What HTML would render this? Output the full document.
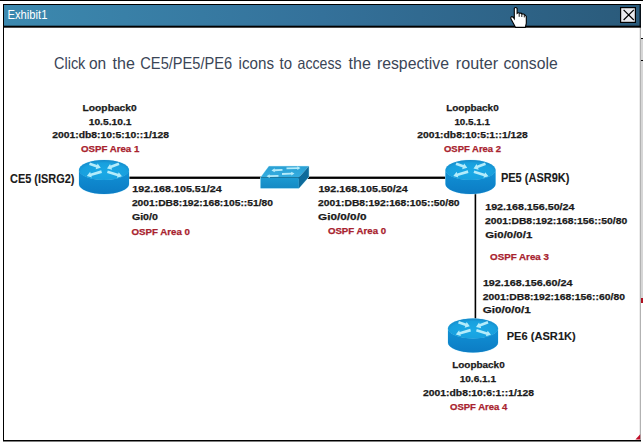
<!DOCTYPE html>
<html><head><meta charset="utf-8"><style>
html,body{margin:0;padding:0;background:#fff;}
body{width:643px;height:445px;overflow:hidden;position:relative;font-family:"Liberation Sans",sans-serif;}
svg{position:absolute;left:0;top:0;}
text{font-family:"Liberation Sans",sans-serif;}
</style></head><body>
<svg width="643" height="445" viewBox="0 0 643 445">
<defs>
<linearGradient id="tb" x1="0" y1="0" x2="1" y2="0">
 <stop offset="0" stop-color="#3c89af"/>
 <stop offset="0.5" stop-color="#34719a"/>
 <stop offset="1" stop-color="#2a5a7a"/>
</linearGradient>
<radialGradient id="topf" cx="0.5" cy="0.6" r="0.6">
 <stop offset="0" stop-color="#1aa9e6"/>
 <stop offset="0.75" stop-color="#18a0de"/>
 <stop offset="1" stop-color="#1588c8"/>
</radialGradient>
<linearGradient id="side" x1="0" y1="0" x2="0" y2="1">
 <stop offset="0" stop-color="#1192d6"/>
 <stop offset="1" stop-color="#0c7cc4"/>
</linearGradient>
<linearGradient id="swtop" x1="0" y1="0" x2="0" y2="1">
 <stop offset="0" stop-color="#2aa0d4"/>
 <stop offset="1" stop-color="#35ade0"/>
</linearGradient>
<linearGradient id="swfront" x1="0" y1="0" x2="0" y2="1">
 <stop offset="0" stop-color="#1b9ad2"/>
 <stop offset="1" stop-color="#158ac4"/>
</linearGradient>
</defs>
<rect x="0" y="0" width="643" height="1" fill="#000"/>
<!-- frame -->
<rect x="3" y="4" width="638" height="437" fill="#fff"/>
<rect x="3" y="4" width="1" height="437" fill="#000"/>
<rect x="3" y="4" width="638" height="1" fill="#000"/>
<rect x="639.8" y="27" width="1" height="414" fill="#a0a0a0"/>
<rect x="3" y="440" width="638" height="1.5" fill="#000"/>
<rect x="4" y="5" width="637" height="21" fill="url(#tb)"/>
<rect x="4" y="25.7" width="637" height="2" fill="#000"/>
<!-- close button -->
<rect x="620.6" y="7.6" width="14.8" height="14.8" fill="#ebebef" stroke="#000" stroke-width="1.2"/>
<path d="M623.6,9.8 L633.8,20 M633.8,9.8 L623.6,20" stroke="#000" stroke-width="1.2"/>
<rect x="639.6" y="4" width="1.2" height="23" fill="#000"/>
<rect x="641" y="38" width="2" height="1" fill="#000"/>
<rect x="641" y="39" width="2" height="259" fill="#d6d6d6"/>
<rect x="641" y="60" width="2" height="1" fill="#000"/>
<rect x="641" y="298" width="2" height="5" fill="#b01020"/>
<path d="M514.3,8.4 Q515.7,6.7 517.1,8.4 L517.1,13.3 Q518.5,12.1 519.9,13.3 Q521.2,12.8 522.4,14.1 Q523.8,13.6 525,15 L526.3,16.5 L526.3,23.3 L525.3,27.4 L515.6,27.4 L511.3,19.6 Q510.1,17.9 511.4,16.7 Q512.8,16.1 514.3,18.6 Z" fill="#fff" stroke="#000" stroke-width="1.1"/>
<path d="M519.2,13.4 L519.2,16.8 M521.8,13.9 L521.8,17 M524.3,14.8 L524.3,17.4" stroke="#000" stroke-width="0.9" fill="none"/>
<!-- links -->
<rect x="120" y="176.6" width="340" height="2.3" fill="#000"/>
<rect x="474.6" y="185" width="1.6" height="140" fill="#000"/>
<g>
<path d="M79,170 L79,184 A25.0,10 0 0 0 129,184 L129,170 Z" fill="url(#side)" stroke="#bfeefc" stroke-width="0.8"/>
<ellipse cx="104.0" cy="170" rx="25.0" ry="10" fill="url(#topf)" stroke="#bfeefc" stroke-width="0.6"/>
<path d="M79,170 L79,184 A25.0,10 0 0 0 129,184 L129,170 A25.0,10 0 0 1 79,170 Z" fill="url(#side)"/>
<ellipse cx="104.0" cy="170" rx="25.0" ry="10" fill="url(#topf)"/>
<g fill="#b4ecfb"><polygon points="89.05,165.07 96.20,167.60 95.65,169.16 100.80,167.80 97.65,163.50 97.10,165.06 89.95,162.53"/><polygon points="118.52,162.54 110.63,165.56 110.03,164.02 107.00,168.40 112.18,169.63 111.59,168.09 119.48,165.06"/><polygon points="101.22,170.31 90.63,173.45 90.16,171.87 86.80,176.00 91.87,177.62 91.40,176.04 101.98,172.89"/><polygon points="107.00,173.09 117.40,176.29 116.91,177.87 122.00,176.30 118.68,172.14 118.19,173.71 107.80,170.51"/></g>
</g>
<g>
<path d="M445.5,170 L445.5,184 A25.0,10 0 0 0 495.5,184 L495.5,170 Z" fill="url(#side)" stroke="#bfeefc" stroke-width="0.8"/>
<ellipse cx="470.5" cy="170" rx="25.0" ry="10" fill="url(#topf)" stroke="#bfeefc" stroke-width="0.6"/>
<path d="M445.5,170 L445.5,184 A25.0,10 0 0 0 495.5,184 L495.5,170 A25.0,10 0 0 1 445.5,170 Z" fill="url(#side)"/>
<ellipse cx="470.5" cy="170" rx="25.0" ry="10" fill="url(#topf)"/>
<g fill="#b4ecfb"><polygon points="455.55,165.07 462.70,167.60 462.15,169.16 467.30,167.80 464.15,163.50 463.60,165.06 456.45,162.53"/><polygon points="485.02,162.54 477.13,165.56 476.53,164.02 473.50,168.40 478.68,169.63 478.09,168.09 485.98,165.06"/><polygon points="467.72,170.31 457.13,173.45 456.66,171.87 453.30,176.00 458.37,177.62 457.90,176.04 468.48,172.89"/><polygon points="473.50,173.09 483.90,176.29 483.41,177.87 488.50,176.30 485.18,172.14 484.69,173.71 474.30,170.51"/></g>
</g>
<g>
<path d="M448,328.5 L448,342.5 A25.0,10 0 0 0 498,342.5 L498,328.5 Z" fill="url(#side)" stroke="#bfeefc" stroke-width="0.8"/>
<ellipse cx="473.0" cy="328.5" rx="25.0" ry="10" fill="url(#topf)" stroke="#bfeefc" stroke-width="0.6"/>
<path d="M448,328.5 L448,342.5 A25.0,10 0 0 0 498,342.5 L498,328.5 A25.0,10 0 0 1 448,328.5 Z" fill="url(#side)"/>
<ellipse cx="473.0" cy="328.5" rx="25.0" ry="10" fill="url(#topf)"/>
<g fill="#b4ecfb"><polygon points="458.05,323.57 465.20,326.10 464.65,327.66 469.80,326.30 466.65,322.00 466.10,323.56 458.95,321.03"/><polygon points="487.52,321.04 479.63,324.06 479.03,322.52 476.00,326.90 481.18,328.13 480.59,326.59 488.48,323.56"/><polygon points="470.22,328.81 459.63,331.95 459.16,330.37 455.80,334.50 460.87,336.12 460.40,334.54 470.98,331.39"/><polygon points="476.00,331.59 486.40,334.79 485.91,336.37 491.00,334.80 487.68,330.64 487.19,332.21 476.80,329.01"/></g>
</g>
<g>
<polygon points="268.9,166.3 308.8,166.3 308.8,177 298.9,188.2 260.6,188.2 260.6,177.4" fill="none" stroke="#c4f0fc" stroke-width="1"/>
<polygon points="268.9,166.3 308.8,166.3 298.9,177.4 260.6,177.4" fill="url(#swtop)"/>
<polygon points="260.6,177.4 298.9,177.4 298.9,188.2 260.6,188.2" fill="url(#swfront)"/>
<polygon points="298.9,177.4 308.8,166.3 308.8,177 298.9,188.2" fill="#0e6b9b"/>
<g fill="#b4ebfa"><polygon points="282.46,169.00 274.66,169.36 274.61,168.36 271.50,170.40 274.78,172.15 274.74,171.15 282.54,170.80"/><polygon points="286.53,169.30 297.33,168.99 297.36,169.99 300.50,168.00 297.25,166.19 297.28,167.19 286.47,167.50"/><polygon points="278.48,175.00 269.68,175.22 269.65,174.22 266.50,176.20 269.75,178.02 269.72,177.02 278.52,176.80"/><polygon points="282.04,174.90 291.35,174.45 291.39,175.45 294.50,173.40 291.21,171.66 291.26,172.65 281.96,173.10"/></g>
</g>
<text x="7.50" y="19.00" font-size="12.5" font-weight="normal" fill="#ffffff" textLength="39.97" lengthAdjust="spacingAndGlyphs">Exhibit1</text>
<text x="54.00" y="68.80" font-size="16.5" font-weight="normal" fill="#3a4556" textLength="31.35" lengthAdjust="spacingAndGlyphs">Click</text>
<text x="88.90" y="68.80" font-size="16.5" font-weight="normal" fill="#3a4556" textLength="17.24" lengthAdjust="spacingAndGlyphs">on</text>
<text x="112.50" y="68.80" font-size="16.5" font-weight="normal" fill="#3a4556" textLength="22.30" lengthAdjust="spacingAndGlyphs">the</text>
<text x="140.30" y="68.80" font-size="16.5" font-weight="normal" fill="#3a4556" textLength="91.92" lengthAdjust="spacingAndGlyphs">CE5/PE5/PE6</text>
<text x="238.60" y="68.80" font-size="16.5" font-weight="normal" fill="#3a4556" textLength="35.39" lengthAdjust="spacingAndGlyphs">icons</text>
<text x="279.50" y="68.80" font-size="16.5" font-weight="normal" fill="#3a4556" textLength="12.48" lengthAdjust="spacingAndGlyphs">to</text>
<text x="297.60" y="68.80" font-size="16.5" font-weight="normal" fill="#3a4556" textLength="44.03" lengthAdjust="spacingAndGlyphs">access</text>
<text x="348.50" y="68.80" font-size="16.5" font-weight="normal" fill="#3a4556" textLength="22.30" lengthAdjust="spacingAndGlyphs">the</text>
<text x="376.90" y="68.80" font-size="16.5" font-weight="normal" fill="#3a4556" textLength="72.06" lengthAdjust="spacingAndGlyphs">respective</text>
<text x="455.80" y="68.80" font-size="16.5" font-weight="normal" fill="#3a4556" textLength="42.24" lengthAdjust="spacingAndGlyphs">router</text>
<text x="503.50" y="68.80" font-size="16.5" font-weight="normal" fill="#3a4556" textLength="54.13" lengthAdjust="spacingAndGlyphs">console</text>
<text x="82.60" y="110.70" font-size="9.5" font-weight="bold" fill="#1a1a1a" textLength="54.09" lengthAdjust="spacingAndGlyphs" stroke="#1a1a1a" stroke-width="0.25">Loopback0</text>
<text x="88.70" y="124.70" font-size="9.5" font-weight="bold" fill="#1a1a1a" textLength="42.80" lengthAdjust="spacingAndGlyphs" stroke="#1a1a1a" stroke-width="0.25">10.5.10.1</text>
<text x="52.20" y="137.70" font-size="9.5" font-weight="bold" fill="#1a1a1a" textLength="116.89" lengthAdjust="spacingAndGlyphs" stroke="#1a1a1a" stroke-width="0.25">2001:db8:10:5:10::1/128</text>
<text x="80.90" y="151.80" font-size="9.5" font-weight="bold" fill="#a8222e" textLength="58.41" lengthAdjust="spacingAndGlyphs" stroke="#a8222e" stroke-width="0.25">OSPF Area 1</text>
<text x="10.00" y="182.60" font-size="12.5" font-weight="bold" fill="#1a1a1a" textLength="64.50" lengthAdjust="spacingAndGlyphs" stroke="#1a1a1a" stroke-width="0.1">CE5 (ISRG2)</text>
<text x="132.30" y="192.10" font-size="9.5" font-weight="bold" fill="#1a1a1a" textLength="89.32" lengthAdjust="spacingAndGlyphs" stroke="#1a1a1a" stroke-width="0.25">192.168.105.51/24</text>
<text x="131.90" y="205.70" font-size="9.5" font-weight="bold" fill="#1a1a1a" textLength="141.12" lengthAdjust="spacingAndGlyphs" stroke="#1a1a1a" stroke-width="0.25">2001:DB8:192:168:105::51/80</text>
<text x="131.90" y="220.40" font-size="9.5" font-weight="bold" fill="#1a1a1a" textLength="26.01" lengthAdjust="spacingAndGlyphs" stroke="#1a1a1a" stroke-width="0.25">Gi0/0</text>
<text x="131.50" y="235.40" font-size="9.5" font-weight="bold" fill="#a8222e" textLength="58.51" lengthAdjust="spacingAndGlyphs" stroke="#a8222e" stroke-width="0.25">OSPF Area 0</text>
<text x="318.40" y="192.10" font-size="9.5" font-weight="bold" fill="#1a1a1a" textLength="89.32" lengthAdjust="spacingAndGlyphs" stroke="#1a1a1a" stroke-width="0.25">192.168.105.50/24</text>
<text x="318.10" y="205.90" font-size="9.5" font-weight="bold" fill="#1a1a1a" textLength="141.52" lengthAdjust="spacingAndGlyphs" stroke="#1a1a1a" stroke-width="0.25">2001:DB8:192:168:105::50/80</text>
<text x="318.10" y="219.80" font-size="9.5" font-weight="bold" fill="#1a1a1a" textLength="48.39" lengthAdjust="spacingAndGlyphs" stroke="#1a1a1a" stroke-width="0.25">Gi0/0/0/0</text>
<text x="327.90" y="234.00" font-size="9.5" font-weight="bold" fill="#a8222e" textLength="58.21" lengthAdjust="spacingAndGlyphs" stroke="#a8222e" stroke-width="0.25">OSPF Area 0</text>
<text x="446.20" y="110.70" font-size="9.5" font-weight="bold" fill="#1a1a1a" textLength="52.49" lengthAdjust="spacingAndGlyphs" stroke="#1a1a1a" stroke-width="0.25">Loopback0</text>
<text x="454.40" y="124.70" font-size="9.5" font-weight="bold" fill="#1a1a1a" textLength="35.59" lengthAdjust="spacingAndGlyphs" stroke="#1a1a1a" stroke-width="0.25">10.5.1.1</text>
<text x="417.20" y="137.80" font-size="9.5" font-weight="bold" fill="#1a1a1a" textLength="110.58" lengthAdjust="spacingAndGlyphs" stroke="#1a1a1a" stroke-width="0.25">2001:db8:10:5:1::1/128</text>
<text x="444.00" y="151.60" font-size="9.5" font-weight="bold" fill="#a8222e" textLength="57.01" lengthAdjust="spacingAndGlyphs" stroke="#a8222e" stroke-width="0.25">OSPF Area 2</text>
<text x="500.90" y="181.90" font-size="12.3" font-weight="bold" fill="#1a1a1a" textLength="68.59" lengthAdjust="spacingAndGlyphs" stroke="#1a1a1a" stroke-width="0.1">PE5 (ASR9K)</text>
<text x="485.20" y="209.90" font-size="9.5" font-weight="bold" fill="#1a1a1a" textLength="89.32" lengthAdjust="spacingAndGlyphs" stroke="#1a1a1a" stroke-width="0.25">192.168.156.50/24</text>
<text x="484.90" y="223.50" font-size="9.5" font-weight="bold" fill="#1a1a1a" textLength="142.32" lengthAdjust="spacingAndGlyphs" stroke="#1a1a1a" stroke-width="0.25">2001:DB8:192:168:156::50/80</text>
<text x="485.20" y="237.80" font-size="9.5" font-weight="bold" fill="#1a1a1a" textLength="47.09" lengthAdjust="spacingAndGlyphs" stroke="#1a1a1a" stroke-width="0.25">Gi0/0/0/1</text>
<text x="490.10" y="260.00" font-size="9.5" font-weight="bold" fill="#a8222e" textLength="58.81" lengthAdjust="spacingAndGlyphs" stroke="#a8222e" stroke-width="0.25">OSPF Area 3</text>
<text x="482.90" y="285.90" font-size="9.5" font-weight="bold" fill="#1a1a1a" textLength="89.62" lengthAdjust="spacingAndGlyphs" stroke="#1a1a1a" stroke-width="0.25">192.168.156.60/24</text>
<text x="482.70" y="299.50" font-size="9.5" font-weight="bold" fill="#1a1a1a" textLength="142.22" lengthAdjust="spacingAndGlyphs" stroke="#1a1a1a" stroke-width="0.25">2001:DB8:192:168:156::60/80</text>
<text x="482.70" y="313.00" font-size="9.5" font-weight="bold" fill="#1a1a1a" textLength="48.09" lengthAdjust="spacingAndGlyphs" stroke="#1a1a1a" stroke-width="0.25">Gi0/0/0/1</text>
<text x="506.70" y="340.00" font-size="11.7" font-weight="bold" fill="#1a1a1a" textLength="69.09" lengthAdjust="spacingAndGlyphs" stroke="#1a1a1a" stroke-width="0.1">PE6 (ASR1K)</text>
<text x="452.20" y="368.40" font-size="9.5" font-weight="bold" fill="#1a1a1a" textLength="52.49" lengthAdjust="spacingAndGlyphs" stroke="#1a1a1a" stroke-width="0.25">Loopback0</text>
<text x="459.70" y="382.00" font-size="9.5" font-weight="bold" fill="#1a1a1a" textLength="36.29" lengthAdjust="spacingAndGlyphs" stroke="#1a1a1a" stroke-width="0.25">10.6.1.1</text>
<text x="423.00" y="395.80" font-size="9.5" font-weight="bold" fill="#1a1a1a" textLength="111.08" lengthAdjust="spacingAndGlyphs" stroke="#1a1a1a" stroke-width="0.25">2001:db8:10:6:1::1/128</text>
<text x="450.00" y="410.30" font-size="9.5" font-weight="bold" fill="#a8222e" textLength="57.31" lengthAdjust="spacingAndGlyphs" stroke="#a8222e" stroke-width="0.25">OSPF Area 4</text>
<!-- corner grip -->
<polygon points="640.2,434.3 640.2,439.6 635.4,439.6" fill="#c0102a"/>
</svg>
</body></html>
